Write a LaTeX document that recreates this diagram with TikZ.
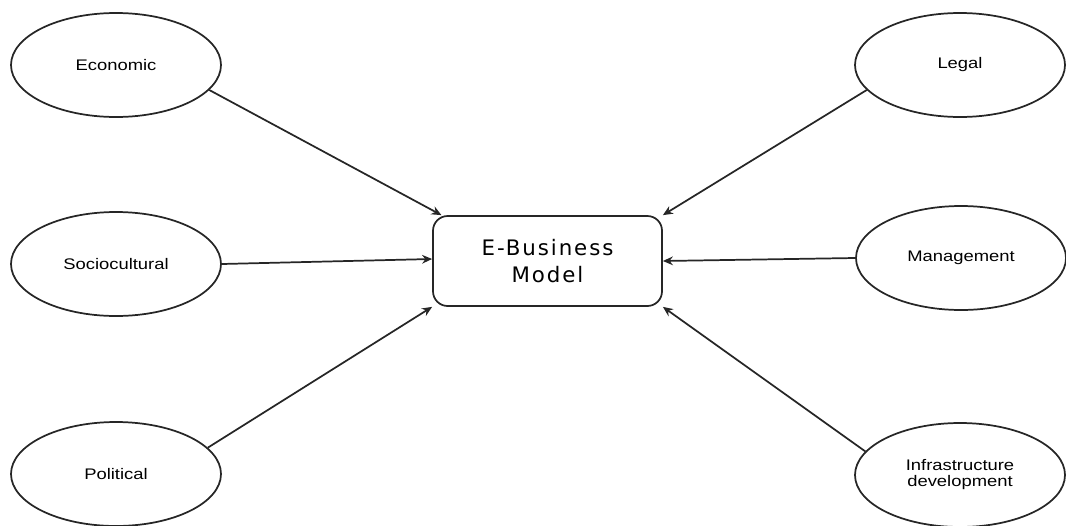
\documentclass[tikz,border=0pt]{standalone}
\usepackage{fontspec}
\setmainfont{Liberation Sans}
\newfontfamily\labfont[FakeStretch=1.2]{Liberation Sans}
\newfontfamily\boxfont[LetterSpace=9]{DejaVu Sans}
\usetikzlibrary{arrows.meta,calc,shapes.geometric}
\begin{document}
\begin{tikzpicture}[x=0.75pt,y=-0.75pt,
  factor/.style={ellipse, draw=black!85, line width=1.3pt, minimum width=157.5pt, minimum height=78pt, inner sep=0pt, align=center, font=\labfont\fontsize{11.5}{12}\selectfont},
  central/.style={rectangle, rounded corners=11pt, draw=black!85, line width=1.3pt, minimum width=171.75pt, minimum height=67.5pt, align=center, font=\boxfont\fontsize{16}{20.5}\selectfont},
  arr/.style={draw=black!85, line width=1.3pt, -{Stealth[length=7.5pt,width=6.5pt]}}
]
\useasboundingbox (0,0) rectangle (1066,525);
\node[central] (box) at (547.5,261) {E-Business\\Model};
\node[factor] (eco) at (116,65) {Economic};
\node[factor] (soc) at (116,264) {Sociocultural};
\node[factor] (pol) at (116,474) {Political};
\node[factor] (leg) at (960,65) {Legal};
\node[factor] (man) at (961,258) {Management};
\node[factor] (inf) at (960,475) {Infrastructure\\development};
\draw[arr] (eco.-15) -- ([xshift=7pt]box.north west);
\draw[arr] (soc.east) -- ([yshift=1.5pt]box.west);
\draw[arr] (pol.16) -- (box.south west);
\draw[arr] (leg.195) -- (box.north east);
\draw[arr] (man.west) -- (box.east);
\draw[arr] (inf.166) -- (box.south east);
\end{tikzpicture}
\end{document}
